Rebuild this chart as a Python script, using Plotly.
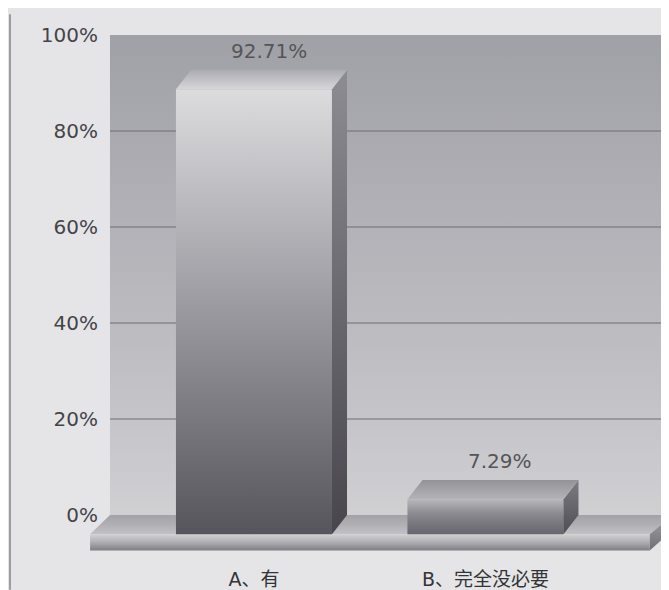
import plotly.graph_objects as go

# ---------------- data ----------------
categories = ["A、有", "B、完全没必要"]
values = [92.71, 7.29]
value_labels = ["92.71%", "7.29%"]
y_ticks = [0, 20, 40, 60, 80, 100]
y_tick_labels = ["0%", "20%", "40%", "60%", "80%", "100%"]

# ---------------- styles / geometry (axis units) ----------------
# page body has an 8px margin: figure is 8px smaller so it fits the window
W, H = 661, 582
M_L, M_R, M_T, M_B = 80, 0, 27, 37
X_MIN, X_MAX = -0.717, 1.793
Y_MIN, Y_MAX = -7.5, 100
WALL_LEFT = -0.622
HALF_W = 0.337
DX = 0.065
DY = 4.0
FLOOR_FL, FLOOR_FR = -0.708, 1.71

front_scales = [
    [[0, "#57555c"], [0.5, "#9a99a0"], [1, "#dcdcde"]],
    [[0, "#66646c"], [0.6, "#8c8b91"], [1, "#b8b8bc"]],
]
side_scales = [
    [[0, "#48464c"], [1, "#8c8c92"]],
    [[0, "#504e55"], [1, "#7c7c82"]],
]
top_scales = [
    [[0, "#d6d6da"], [1, "#ababb1"]],
    [[0, "#b4b4b8"], [1, "#929298"]],
]
bar_mid = ["#9a9a9e", "#8a8a8e"]

PAPER = "#e5e5e7"
FONT_NUM = "DejaVu Sans"
FONT_CAT = "DejaVu Sans, Noto Sans CJK SC"

fig = go.Figure()


def poly(xs, ys, scale, gtype="vertical"):
    fig.add_trace(go.Scatter(
        x=xs + [xs[0]], y=ys + [ys[0]], mode="lines", fill="toself",
        line=dict(width=0), fillgradient=dict(type=gtype, colorscale=scale),
        hoverinfo="skip", showlegend=False))


# back wall
poly([WALL_LEFT, X_MAX, X_MAX, WALL_LEFT], [0, 0, Y_MAX, Y_MAX],
     [[0, "#d0d0d3"], [0.35, "#bdbdc2"], [1, "#a0a0a7"]])

# gridlines on the wall
for t in y_ticks[1:-1]:
    fig.add_trace(go.Scatter(x=[WALL_LEFT, X_MAX], y=[t, t], mode="lines",
                             line=dict(color="#6c6c72", width=1),
                             hoverinfo="skip", showlegend=False))

# floor
poly([WALL_LEFT, X_MAX, X_MAX, FLOOR_FR, FLOOR_FL], [0, 0, -0.6, -DY, -DY],
     [[0, "#c2c2c6"], [0.5, "#b0b0b4"], [1, "#a2a2a7"]])
poly([FLOOR_FL, FLOOR_FR, FLOOR_FR, FLOOR_FL], [-DY, -DY, Y_MIN + 0.1, Y_MIN + 0.1],
     [[0, "#7e7e83"], [0.55, "#b2b2b6"], [1, "#d2d2d4"]])
poly([FLOOR_FR, X_MAX, X_MAX, FLOOR_FR], [-DY, -0.6, -3.8, Y_MIN + 0.1],
     [[0, "#707075"], [1, "#9c9ca1"]])

# bars (front faces through the bar trace)
fig.add_trace(go.Bar(x=[0, 1], y=values, base=[-DY] * len(values),
                     width=2 * HALF_W, marker=dict(color=bar_mid, line=dict(width=0)),
                     hoverinfo="skip", showlegend=False))

for i, v in enumerate(values):
    xl, xr = i - HALF_W, i + HALF_W
    # front face shading
    poly([xl, xr, xr, xl], [-DY, -DY, v - DY, v - DY], front_scales[i])
    # right side face
    poly([xr, xr, xr + DX, xr + DX], [-DY, v - DY, v, 0], side_scales[i])
    # top face
    poly([xl, xr, xr + DX, xl + DX], [v - DY, v - DY, v, v], top_scales[i])

# value labels
for i, (v, lab) in enumerate(zip(values, value_labels)):
    fig.add_annotation(x=i + DX, y=v, text=lab, showarrow=False,
                       yanchor="bottom", yshift=5,
                       font=dict(family=FONT_NUM, size=20, color="#555558"))

# scan page border line at left
bx = (2 - M_L) / (W - M_L - M_R)
fig.add_shape(type="line", xref="paper", yref="paper",
              x0=bx, x1=bx, y0=-0.075, y1=1.04, line=dict(color="#9c9c9e", width=2))

fig.update_layout(
    width=W, height=H,
    margin=dict(l=M_L, r=M_R, t=M_T, b=M_B),
    paper_bgcolor=PAPER, plot_bgcolor=PAPER,
    showlegend=False, bargap=0,
    xaxis=dict(range=[X_MIN, X_MAX], tickvals=[0, 1], ticktext=categories,
               ticks="outside", ticklen=11, tickcolor="rgba(0,0,0,0)",
               showgrid=False, zeroline=False, showline=False,
               tickfont=dict(family=FONT_CAT, size=19, color="#333336")),
    yaxis=dict(range=[Y_MIN, Y_MAX], tickvals=y_ticks, ticktext=y_tick_labels,
               anchor="free", position=(102 - M_L) / (W - M_L - M_R),
               ticks="outside", ticklen=8, tickcolor="rgba(0,0,0,0)",
               showgrid=False, zeroline=False, showline=False,
               tickfont=dict(family=FONT_NUM, size=20, color="#444447")),
)

fig.write_html("out.html")
